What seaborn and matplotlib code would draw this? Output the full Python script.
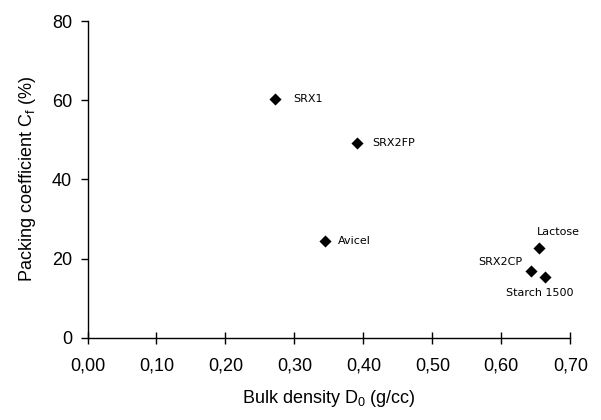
import matplotlib
matplotlib.use("Agg")
import matplotlib.pyplot as plt
import seaborn as sns
import pandas as pd

names = ["SRX1", "SRX2FP", "Avicel", "Lactose", "SRX2CP", "Starch 1500"]
bulk_density = [0.272, 0.390, 0.344, 0.654, 0.643, 0.663]
packing_coef = [60.4, 49.1, 24.3, 22.6, 16.9, 15.4]
x_ticks = [0.0, 0.1, 0.2, 0.3, 0.4, 0.5, 0.6, 0.7]
x_tick_labels = ["0,00", "0,10", "0,20", "0,30", "0,40", "0,50", "0,60", "0,70"]
y_ticks = [0, 20, 40, 60, 80]

sns.set_style("white")
plt.rcParams["font.family"] = ["Liberation Sans", "DejaVu Sans"]
plt.rcParams["mathtext.fontset"] = "custom"
plt.rcParams["mathtext.rm"] = "Liberation Sans"
plt.rcParams["text.color"] = "black"
plt.rcParams["axes.labelcolor"] = "black"
plt.rcParams["xtick.color"] = "black"
plt.rcParams["ytick.color"] = "black"

df = pd.DataFrame({"name": names, "x": bulk_density, "y": packing_coef})

fig = plt.figure(figsize=(6.01, 4.2), dpi=100)
ax = fig.add_axes([0.1456, 0.196, 0.949 - 0.1456, 0.95 - 0.196])
sns.scatterplot(data=df, x="x", y="y", marker="D", color="black", s=38,
                edgecolor="black", linewidth=0, ax=ax, legend=False)

offsets = {
    "SRX1": ((13, 0), "left", "center"),
    "SRX2FP": ((11, 0), "left", "center"),
    "Avicel": ((9.5, 0), "left", "center"),
    "Lactose": ((-1.5, 12), "left", "center"),
    "SRX2CP": ((-6, 6), "right", "center"),
    "Starch 1500": ((-3.6, -11.5), "center", "center"),
}
for n, xv, yv in zip(names, bulk_density, packing_coef):
    off, ha, va = offsets[n]
    ax.annotate(n, (xv, yv), xytext=off, textcoords="offset points",
                ha=ha, va=va, fontsize=8, family="DejaVu Sans", color="black")

ax.set_xlim(0, 0.7)
ax.set_ylim(0, 80)
ax.set_xticks(x_ticks)
ax.set_xticklabels(x_tick_labels)
ax.set_yticks(y_ticks)
for s in ["top", "right"]:
    ax.spines[s].set_visible(False)
for s in ["left", "bottom"]:
    ax.spines[s].set_color("black")
    ax.spines[s].set_linewidth(1.0)
ax.tick_params(axis="x", direction="inout", length=8, width=1, color="black",
               labelcolor="black", labelsize=13, pad=10, bottom=True)
ax.tick_params(axis="y", direction="out", length=5, width=1, color="black",
               labelcolor="black", labelsize=13, pad=6, left=True)
ax.set_xlabel(r"Bulk density D$_\mathregular{0}$ (g/cc)", fontsize=13,
              labelpad=10, color="black")
ax.set_ylabel(r"Packing coefficient C$_\mathregular{f}$ (%)", fontsize=13,
              labelpad=10, color="black")

fig.savefig("out.png", dpi=100, facecolor="white")
